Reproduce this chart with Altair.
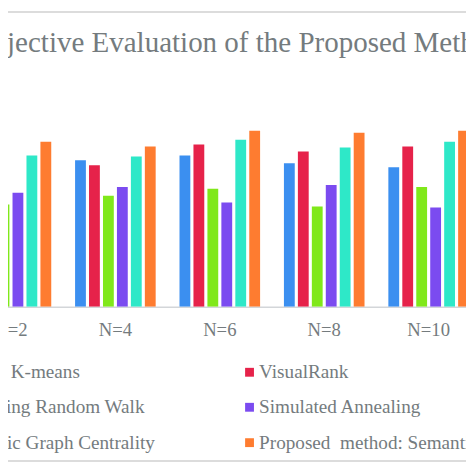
import altair as alt
import pandas as pd

groups = ["N=2", "N=4", "N=6", "N=8", "N=10"]
methods = [
    "Greedy K-means",
    "VisualRank",
    "Absorbing Random Walk",
    "Simulated Annealing",
    "Semantic Graph Centrality",
    "Proposed\u00a0 method: Semantic",
]
colors = ["#3b8ff0", "#e6224a", "#80e81a", "#7b4bf0", "#2ee8c8", "#fe7c30"]

greedy_kmeans = [0.70, 0.745, 0.77, 0.73, 0.71]
visualrank = [0.66, 0.72, 0.825, 0.79, 0.815]
absorbing_rw = [0.52, 0.565, 0.60, 0.51, 0.61]
sim_annealing = [0.58, 0.61, 0.53, 0.62, 0.505]
semantic_gc = [0.77, 0.765, 0.85, 0.81, 0.84]
proposed = [0.84, 0.815, 0.895, 0.885, 0.895]

series = [greedy_kmeans, visualrank, absorbing_rw, sim_annealing, semantic_gc, proposed]
rows = []
for m, vals in zip(methods, series):
    for g, v in zip(groups, vals):
        rows.append({"group": g, "method": m, "value": v})
df = pd.DataFrame(rows)

# legend is filled column by column: left column = entries 0, 2, 4
legend_order = [0, 2, 4, 1, 3, 5]
legend_domain = [methods[i] for i in legend_order]
legend_colors = [colors[i] for i in legend_order]

GRAY = "#747b7e"
FONT = "Liberation Serif"

bars = alt.Chart(df).mark_bar(clip=True).encode(
    x=alt.X(
        "group:N",
        sort=groups,
        scale=alt.Scale(range=[-50.125, 481.125], paddingInner=0, paddingOuter=0),
        axis=alt.Axis(
            title=None, ticks=False, tickSize=0, labelPadding=14, labelAngle=0,
            labelFont=FONT, labelFontSize=19, labelColor=GRAY,
            domainColor="#d3d6d9", domainWidth=1.5, grid=False,
        ),
    ),
    xOffset=alt.XOffset(
        "method:N", sort=methods,
        scale=alt.Scale(paddingInner=0.225, paddingOuter=0.854),
    ),
    y=alt.Y("value:Q", scale=alt.Scale(domain=[0, 1]), axis=None),
    color=alt.Color(
        "method:N",
        scale=alt.Scale(domain=legend_domain, range=legend_colors),
        legend=alt.Legend(
            title=None, orient="none", legendX=-79, legendY=256.5,
            columns=2, columnPadding=86, rowPadding=15,
            symbolType="square", symbolSize=81, symbolStrokeWidth=0,
            labelFont=FONT, labelFontSize=19.5, labelColor=GRAY,
            labelLimit=600, labelOffset=0, padding=0,
        ),
    ),
)

top_rule = alt.Chart(alt.Data(values=[{}])).mark_rule(
    color="#dcdcdc", strokeWidth=2
).encode(x=alt.value(-10), x2=alt.value(480), y=alt.value(-100))

bottom_rule = alt.Chart(alt.Data(values=[{}])).mark_rule(
    color="#dcdcdc", strokeWidth=2
).encode(x=alt.value(-10), x2=alt.value(480), y=alt.value(357))

chart = alt.layer(bars, top_rule, bottom_rule).properties(
    width=466,
    height=200,
    title=alt.TitleParams(
        text="Objective Evaluation of the Proposed Method",
        anchor="start", frame="group", dx=-37, offset=-71,
        baseline="alphabetic",
        font=FONT, fontSize=29.5, fontWeight="normal", color=GRAY,
    ),
    autosize=alt.AutoSizeParams(type="none"),
    padding={"left": 0, "right": 0, "top": 100, "bottom": 158},
).configure_view(strokeWidth=0)

chart.save("out.html", embed_options={"renderer": "svg", "actions": False})
